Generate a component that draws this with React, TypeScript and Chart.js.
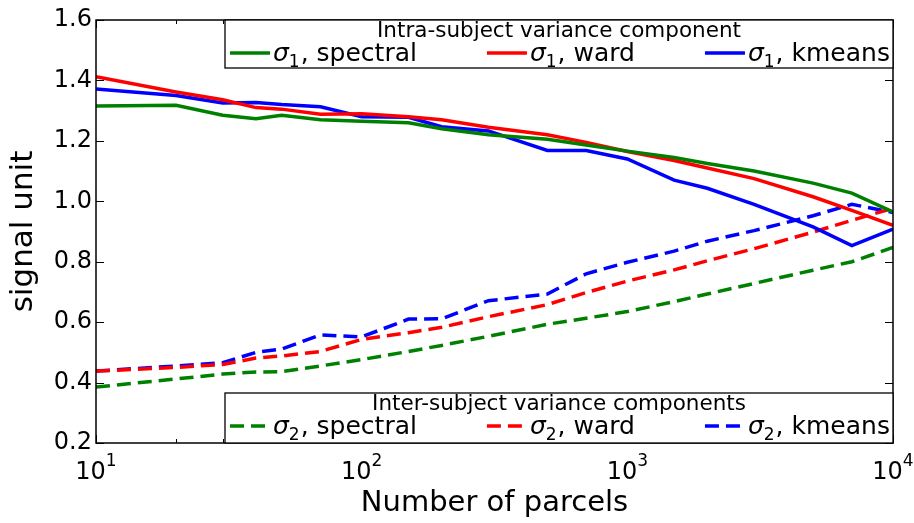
import { useEffect, useRef } from 'react';
import { Chart, registerables } from 'chart.js';

Chart.register(...registerables);

// ---------- data ----------
const parcels = [10, 20, 30, 40, 50, 70, 100, 150, 200, 300, 500, 700, 1000, 1500, 2000, 3000, 5000, 7000, 10000];

const sigma1Spectral = [1.315, 1.318, 1.285, 1.273, 1.285, 1.27, 1.265, 1.26, 1.24, 1.22, 1.205, 1.186, 1.166, 1.145, 1.125, 1.1, 1.06, 1.027, 0.965];
const sigma1Ward = [1.412, 1.362, 1.336, 1.31, 1.305, 1.288, 1.29, 1.28, 1.27, 1.245, 1.22, 1.195, 1.165, 1.135, 1.11, 1.075, 1.015, 0.97, 0.92];
const sigma1Kmeans = [1.372, 1.35, 1.325, 1.327, 1.32, 1.313, 1.28, 1.278, 1.247, 1.233, 1.168, 1.168, 1.14, 1.07, 1.043, 0.99, 0.915, 0.853, 0.908];

const sigma2Spectral = [0.385, 0.412, 0.428, 0.435, 0.436, 0.455, 0.476, 0.503, 0.523, 0.553, 0.593, 0.613, 0.635, 0.668, 0.693, 0.728, 0.772, 0.8, 0.847];
const sigma2Ward = [0.438, 0.45, 0.46, 0.481, 0.488, 0.503, 0.543, 0.565, 0.583, 0.618, 0.658, 0.698, 0.736, 0.773, 0.803, 0.843, 0.898, 0.937, 0.977];
const sigma2Kmeans = [0.438, 0.455, 0.466, 0.5, 0.511, 0.558, 0.551, 0.61, 0.611, 0.671, 0.693, 0.76, 0.798, 0.835, 0.868, 0.903, 0.952, 0.99, 0.963];

const methodNames = ['spectral', 'ward', 'kmeans'];
const methodColors = ['#008000', '#ff0000', '#0000ff'];

const yTickValues = [0.2, 0.4, 0.6, 0.8, 1.0, 1.2, 1.4, 1.6];
const xTickValues = [10, 100, 1000, 10000];
const xTickExponents = ['1', '2', '3', '4'];

const intraTitle = 'Intra-subject variance component';
const interTitle = 'Inter-subject variance components';
const xTitle = 'Number of parcels';
const yTitle = 'signal unit';

const FONT = '"DejaVu Sans"';

function toPoints(values: number[]) {
  return values.map((v, i) => ({ x: parcels[i], y: v }));
}

const solidSeries = [sigma1Spectral, sigma1Ward, sigma1Kmeans];
const dashedSeries = [sigma2Spectral, sigma2Ward, sigma2Kmeans];

const DASH = [14, 7];

function drawMathLabel(ctx: CanvasRenderingContext2D, x: number, y: number, sub: string, rest: string, draw = true) {
  let w = 0;
  ctx.font = `italic 25px ${FONT}`;
  if (draw) ctx.fillText('σ', x, y);
  w += ctx.measureText('σ').width;
  ctx.font = `17px ${FONT}`;
  if (draw) ctx.fillText(sub, x + w, y + 6);
  w += ctx.measureText(sub).width + 1;
  ctx.font = `25px ${FONT}`;
  if (draw) ctx.fillText(rest, x + w, y);
  w += ctx.measureText(rest).width;
  return w;
}

const decorPlugin = {
  id: 'decor',
  afterDraw(chart: any) {
    const ctx: CanvasRenderingContext2D = chart.ctx;
    const { left, right, top, bottom } = chart.chartArea;
    const xs = chart.scales.x;
    const ys = chart.scales.y;
    ctx.save();

    // inward ticks
    ctx.strokeStyle = '#000';
    ctx.lineWidth = 1;
    ctx.beginPath();
    yTickValues.forEach((v) => {
      const py = Math.round(ys.getPixelForValue(v)) + 0.5;
      ctx.moveTo(left, py); ctx.lineTo(left + 8, py);
      ctx.moveTo(right, py); ctx.lineTo(right - 8, py);
    });
    for (let e = 1; e <= 4; e++) {
      for (let m = 1; m <= 9; m++) {
        const v = m * Math.pow(10, e);
        if (v > 10000) break;
        if (v < 10) continue;
        const px = Math.round(xs.getPixelForValue(v)) + 0.5;
        const len = m === 1 ? 8 : 4;
        ctx.moveTo(px, bottom); ctx.lineTo(px, bottom - len);
        ctx.moveTo(px, top); ctx.lineTo(px, top + len);
      }
    }
    ctx.stroke();

    // frame
    ctx.lineWidth = 1.5;
    ctx.strokeRect(left, top, right - left, bottom - top);

    // legends
    const boxLeft = left + 129;
    const boxW = right - boxLeft;
    const groups = [
      { title: intraTitle, top: top, h: 48, sub: '1', dash: [] as number[], start: 0 },
      { title: interTitle, top: bottom - 50, h: 50, sub: '2', dash: DASH, start: 3 },
    ];
    groups.forEach((g) => {
      ctx.fillStyle = '#fff';
      ctx.fillRect(boxLeft, g.top, boxW, g.h);
      ctx.strokeStyle = '#000';
      ctx.lineWidth = 1.3;
      ctx.strokeRect(boxLeft, g.top, boxW, g.h);
      ctx.fillStyle = '#000';
      ctx.font = `21.5px ${FONT}`;
      ctx.textAlign = 'center';
      ctx.textBaseline = 'alphabetic';
      ctx.fillText(g.title, boxLeft + boxW / 2, g.top + 16.5);
      ctx.textAlign = 'left';
      let x = boxLeft + 5;
      for (let i = 0; i < 3; i++) {
        const ds = chart.data.datasets[g.start + i];
        const sy = g.top + 33;
        ctx.strokeStyle = ds.borderColor;
        ctx.lineWidth = 3.5;
        ctx.setLineDash(g.dash);
        ctx.beginPath();
        ctx.moveTo(x, sy); ctx.lineTo(x + 40, sy);
        ctx.stroke();
        ctx.setLineDash([]);
        ctx.fillStyle = '#000';
        const w = drawMathLabel(ctx, x + 43, g.top + 41, g.sub, ', ' + methodNames[i]);
        x = x + 43 + w + 70;
      }
    });

    // x tick labels with superscript exponents
    ctx.fillStyle = '#000';
    ctx.textBaseline = 'alphabetic';
    ctx.textAlign = 'left';
    xTickValues.forEach((v, i) => {
      const px = xs.getPixelForValue(v);
      ctx.font = `24px ${FONT}`;
      const wb = ctx.measureText('10').width;
      ctx.font = `17px ${FONT}`;
      const we = ctx.measureText(xTickExponents[i]).width;
      const x0 = px - (wb + we) / 2;
      ctx.font = `24px ${FONT}`;
      ctx.fillText('10', x0, bottom + 36);
      ctx.font = `17px ${FONT}`;
      ctx.fillText(xTickExponents[i], x0 + wb, bottom + 22.5);
    });

    ctx.restore();
  },
};

export default function App() {
  const canvasRef = useRef<HTMLCanvasElement | null>(null);

  useEffect(() => {
    if (!canvasRef.current) return;
    Chart.defaults.font.family = FONT;
    const datasets: any[] = [];
    solidSeries.forEach((s, i) => {
      datasets.push({
        label: `σ1, ${methodNames[i]}`,
        data: toPoints(s),
        borderColor: methodColors[i],
        borderWidth: 3.5,
        pointRadius: 0,
        fill: false,
        tension: 0,
      });
    });
    dashedSeries.forEach((s, i) => {
      datasets.push({
        label: `σ2, ${methodNames[i]}`,
        data: toPoints(s),
        borderColor: methodColors[i],
        borderWidth: 3.5,
        borderDash: DASH,
        pointRadius: 0,
        fill: false,
        tension: 0,
      });
    });

    const chart = new Chart(canvasRef.current, {
      type: 'line',
      data: { datasets },
      plugins: [decorPlugin],
      options: {
        animation: false,
        responsive: true,
        maintainAspectRatio: false,
        layout: { padding: { left: 0, top: 20, right: 21, bottom: 0 } },
        plugins: { legend: { display: false }, tooltip: { enabled: false } },
        scales: {
          x: {
            type: 'logarithmic',
            min: 10,
            max: 10000,
            grid: { display: false },
            border: { display: false },
            ticks: { display: false },
            afterBuildTicks: (scale: any) => {
              scale.ticks = xTickValues.map((v) => ({ value: v }));
            },
            afterFit: (scale: any) => {
              scale.height = 80;
              scale.paddingLeft = 0;
              scale.paddingRight = 0;
            },
            title: {
              display: true,
              text: xTitle,
              color: '#000',
              font: { size: 29, family: FONT },
              padding: { top: 0, bottom: 2 },
            },
          },
          y: {
            type: 'linear',
            min: 0.2,
            max: 1.6,
            grid: { display: false, drawTicks: false },
            border: { display: false },
            afterBuildTicks: (scale: any) => {
              scale.ticks = yTickValues.map((v) => ({ value: v }));
            },
            afterFit: (scale: any) => {
              scale.width = 96;
              scale.paddingTop = 0;
              scale.paddingBottom = 0;
            },
            ticks: {
              color: '#000',
              padding: 4,
              font: { size: 24, family: FONT },
              callback: (v: any) => Number(v).toFixed(1),
            },
            title: {
              display: true,
              text: yTitle,
              color: '#000',
              font: { size: 31, family: FONT },
              padding: { top: 5, bottom: 0 },
            },
          },
        },
      },
    });
    return () => chart.destroy();
  }, []);

  return (
    <div style={{ position: 'absolute', left: 0, top: 0, width: 914, height: 523, background: '#fff' }}>
      <canvas ref={canvasRef} />
    </div>
  );
}
